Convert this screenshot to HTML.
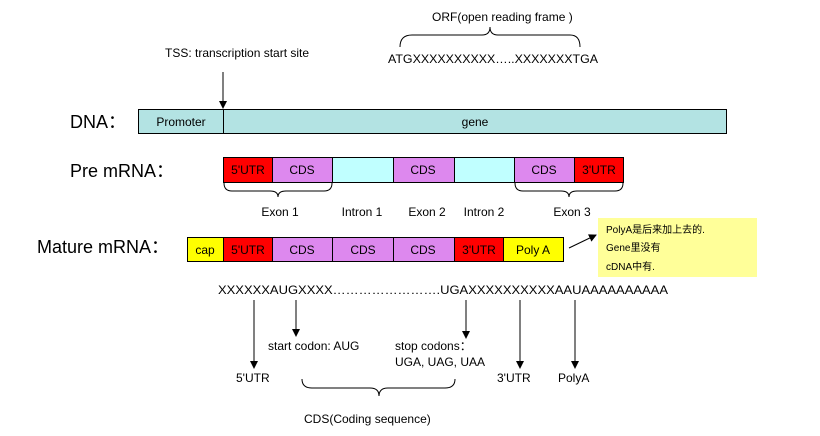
<!DOCTYPE html>
<html><head><meta charset="utf-8"><style>
html,body{margin:0;padding:0;background:#fff;}
svg{display:block;font-family:"Liberation Sans","Noto Sans CJK SC",sans-serif;}
</style></head><body>
<svg width="820" height="436" viewBox="0 0 820 436" xmlns="http://www.w3.org/2000/svg">
<defs><marker id="ah" markerWidth="8" markerHeight="8" refX="7" refY="4" orient="auto" markerUnits="userSpaceOnUse"><path d="M0,0 L8,4 L0,8 z" fill="#000"/></marker></defs>
<g font-size="12" fill="#000">
<text x="432" y="21">ORF(open reading frame )</text>
<path d="M400,47 Q400,35 412,35 L482,35 Q490,35 490,27 Q490,35 498,35 L570,35 Q580,35 580,47" fill="none" stroke="#000"/>
<text x="388" y="63" textLength="210" lengthAdjust="spacingAndGlyphs">ATGXXXXXXXXXX…..XXXXXXXTGA</text>
<text x="165" y="57">TSS: transcription start site</text>
<line x1="223" y1="72" x2="223" y2="108" stroke="#000" marker-end="url(#ah)"/>
</g>
<text x="70" y="128" font-size="18">DNA：</text>
<rect x="138.5" y="109.5" width="588" height="24" fill="#b3e3e3" stroke="#000"/>
<line x1="223.5" y1="109.5" x2="223.5" y2="133.5" stroke="#000"/>
<g font-size="12" text-anchor="middle"><text x="181" y="126">Promoter</text><text x="475" y="126">gene</text></g>

<text x="70" y="177" font-size="18">Pre mRNA：</text>
<g stroke="#000">
<rect x="223.5" y="157.5" width="49" height="25" fill="#ff0000"/>
<rect x="272.5" y="157.5" width="60" height="25" fill="#dd88ee"/>
<rect x="332.5" y="157.5" width="61" height="25" fill="#c0ffff"/>
<rect x="393.5" y="157.5" width="61" height="25" fill="#dd88ee"/>
<rect x="454.5" y="157.5" width="60" height="25" fill="#c0ffff"/>
<rect x="514.5" y="157.5" width="60" height="25" fill="#dd88ee"/>
<rect x="574.5" y="157.5" width="49" height="25" fill="#ff0000"/>
</g>
<g font-size="12" text-anchor="middle">
<text x="248" y="174">5'UTR</text><text x="302" y="174">CDS</text><text x="423" y="174">CDS</text><text x="544" y="174">CDS</text><text x="599" y="174">3'UTR</text>
<text x="280" y="216">Exon 1</text><text x="362" y="216">Intron 1</text><text x="427" y="216">Exon 2</text><text x="484" y="216">Intron 2</text><text x="572" y="216">Exon 3</text>
</g>
<g fill="none" stroke="#000">
<path d="M224,183 Q224,191 232,191 L270,191 Q278,191 278,197 Q278,191 286,191 L324,191 Q332,191 332,183"/>
<path d="M515,183 Q515,191 523,191 L561,191 Q569,191 569,197 Q569,191 577,191 L615,191 Q623,191 623,183"/>
</g>

<text x="37" y="253" font-size="18">Mature mRNA：</text>
<g stroke="#000">
<rect x="187.5" y="237.5" width="36" height="24" fill="#ffff00"/>
<rect x="223.5" y="237.5" width="49" height="24" fill="#ff0000"/>
<rect x="272.5" y="237.5" width="60" height="24" fill="#dd88ee"/>
<rect x="332.5" y="237.5" width="61" height="24" fill="#dd88ee"/>
<rect x="393.5" y="237.5" width="61" height="24" fill="#dd88ee"/>
<rect x="454.5" y="237.5" width="49" height="24" fill="#ff0000"/>
<rect x="503.5" y="237.5" width="60" height="24" fill="#ffff00"/>
</g>
<g font-size="12" text-anchor="middle">
<text x="205" y="254">cap</text><text x="248" y="254">5'UTR</text><text x="302" y="254">CDS</text><text x="363" y="254">CDS</text><text x="423" y="254">CDS</text><text x="479" y="254">3'UTR</text><text x="533" y="254">Poly A</text>
</g>
<line x1="569" y1="248" x2="596" y2="235" stroke="#000" marker-end="url(#ah)"/>
<rect x="598" y="218" width="159" height="59" fill="#ffff99"/>
<g font-size="10"><text x="606" y="233">PolyA是后来加上去的.</text><text x="606" y="251">Gene里没有</text><text x="606" y="270">cDNA中有.</text></g>

<g font-size="12">
<text x="218" y="294" textLength="450" lengthAdjust="spacingAndGlyphs">XXXXXXAUGXXXX…………………….UGAXXXXXXXXXXAAUAAAAAAAAAA</text>
<text x="268" y="350">start codon: AUG</text>
<text x="395" y="350">stop codons：</text>
<text x="395" y="366">UGA, UAG, UAA</text>
<text x="236" y="382">5'UTR</text>
<text x="497" y="382">3'UTR</text>
<text x="558" y="382">PolyA</text>
<text x="304" y="423">CDS(Coding sequence)</text>
</g>
<g stroke="#000">
<line x1="254" y1="300" x2="254" y2="368" marker-end="url(#ah)"/>
<line x1="296" y1="300" x2="296" y2="336" marker-end="url(#ah)"/>
<line x1="466" y1="300" x2="466" y2="338" marker-end="url(#ah)"/>
<line x1="520" y1="300" x2="520" y2="368" marker-end="url(#ah)"/>
<line x1="575" y1="300" x2="575" y2="368" marker-end="url(#ah)"/>
</g>
<path d="M302,379 Q302,388 312,388 L370,388 Q379,388 379,396 Q379,388 388,388 L445,388 Q455,388 455,379" fill="none" stroke="#000"/>
</svg>
</body></html>
